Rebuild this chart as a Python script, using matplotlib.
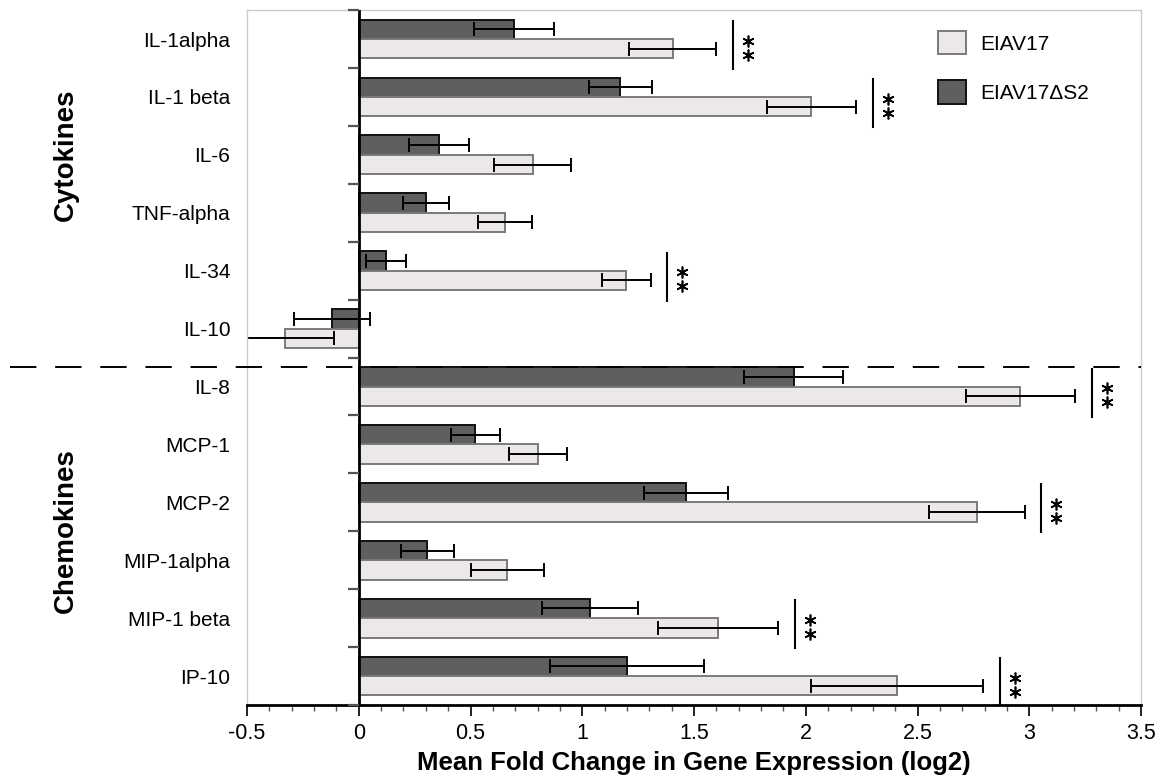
## Horizontal bar chart: cytokine / chemokine expression, EIAV17 vs EIAV17dS2

import matplotlib.pyplot as plt
import matplotlib.transforms as mtransforms
from matplotlib.patches import Patch
from matplotlib.lines import Line2D
import numpy as np

plt.rcParams['font.family'] = ['Liberation Sans', 'DejaVu Sans']
plt.rcParams['lines.scale_dashes'] = False

genes = ['IL-1alpha', 'IL-1 beta', 'IL-6', 'TNF-alpha', 'IL-34', 'IL-10',
         'IL-8', 'MCP-1', 'MCP-2', 'MIP-1alpha', 'MIP-1 beta', 'IP-10']
eiav17 = [1.405, 2.025, 0.778, 0.654, 1.196, -0.33, 2.96, 0.80, 2.764, 0.665, 1.608, 2.408]
eiav17_err = [0.195, 0.20, 0.172, 0.122, 0.11, 0.22, 0.245, 0.13, 0.215, 0.163, 0.268, 0.385]
ds2 = [0.695, 1.17, 0.36, 0.30, 0.121, -0.12, 1.945, 0.522, 1.463, 0.307, 1.033, 1.20]
ds2_err = [0.18, 0.14, 0.135, 0.104, 0.09, 0.17, 0.222, 0.11, 0.187, 0.117, 0.215, 0.344]
significant = ['IL-1alpha', 'IL-1 beta', 'IL-34', 'IL-8', 'MCP-2', 'MIP-1 beta', 'IP-10']
group_names = ['Cytokines', 'Chemokines']
n_cytokines = 6
xticks = [-0.5, 0, 0.5, 1, 1.5, 2, 2.5, 3, 3.5]
xtick_labels = ['-0.5', '0', '0.5', '1', '1.5', '2', '2.5', '3', '3.5']
series_names = ['EIAV17', 'EIAV17\u0394S2']

light = '#ebe7ea'
light_edge = '#7a7a7a'
dark = '#5f5f5f'
dark_edge = '#111111'

fig = plt.figure(figsize=(11.62, 7.75), dpi=100)
ax = fig.add_axes([0.2126, 0.0903, 0.982 - 0.2126, 0.987 - 0.0903])

y = np.arange(len(genes))
h = 0.335
ekw = dict(ecolor='black', elinewidth=1.4, capsize=4.8, capthick=1.4)

ax.barh(y - h / 2, ds2, height=h, color=dark, edgecolor=dark_edge,
        linewidth=1.4, xerr=ds2_err, error_kw=ekw, zorder=2)
ax.barh(y + h / 2, eiav17, height=h, color=light, edgecolor=light_edge,
        linewidth=1.4, xerr=eiav17_err, error_kw=ekw, zorder=2)

ax.set_xlim(-0.5, 3.5)
ax.set_ylim(len(genes) - 0.5, -0.5)

# significance bars with two stacked asterisks
for i, g in enumerate(genes):
    if g in significant:
        xs = eiav17[i] + eiav17_err[i] + 0.075
        ax.plot([xs, xs], [i - 0.31, i + 0.52], color='black', lw=1.5, zorder=3)
        ax.plot([xs + 0.066, xs + 0.066], [i + 0.03, i + 0.27], linestyle='none',
                marker=(6, 2, 0), markersize=8.5, markeredgewidth=1.2,
                color='black', zorder=3)

# zero axis with group boundary ticks
ax.axvline(0, color='black', lw=2, zorder=4)
ax.hlines(np.arange(len(genes) + 1) - 0.5, -0.05, 0, color='#555555', lw=1.6,
          clip_on=False, zorder=4)

# category labels
ax.set_yticks(y)
ax.set_yticklabels(genes, fontsize=15)
ax.tick_params(axis='y', length=0, pad=12)

ax.set_xticks(xticks)
ax.set_xticklabels(xtick_labels, fontsize=15.5)
ax.set_xticks(np.arange(-0.5, 3.51, 0.1), minor=True)
ax.tick_params(axis='x', which='major', length=8, width=1.4, color='#222222', pad=5)
ax.tick_params(axis='x', which='minor', length=4, width=1.0, color='#555555')
ax.set_xlabel('Mean Fold Change in Gene Expression (log2)', fontsize=18.5,
              fontweight='bold', labelpad=5)

for s in ['top', 'left', 'right']:
    ax.spines[s].set_color('#cccccc')
    ax.spines[s].set_linewidth(1)
ax.spines['bottom'].set_linewidth(2)
ax.spines['bottom'].set_color('black')

# dashed separator between cytokines and chemokines
trans = mtransforms.blended_transform_factory(fig.transFigure, ax.transData)
sep_y = n_cytokines - 0.5 + (1 - 2 * h) / 2
fig.add_artist(Line2D([0.009, 0.982], [sep_y, sep_y], transform=trans,
                      color='black', lw=1.4, linestyle=(0, (19, 13.5)), zorder=1))

fig.text(0.057, 0.80, group_names[0], rotation=90, ha='center', va='center',
         fontsize=20, fontweight='bold')
fig.text(0.057, 0.316, group_names[1], rotation=90, ha='center', va='center',
         fontsize=20, fontweight='bold')

handles = [Patch(facecolor=light, edgecolor=light_edge, linewidth=1.4),
           Patch(facecolor=dark, edgecolor=dark_edge, linewidth=1.4)]
ax.legend(handles, series_names, loc='upper left', bbox_to_anchor=(0.752, 0.997),
          frameon=False, fontsize=15, handlelength=1.35, handleheight=1.35,
          labelspacing=1.25, handletextpad=0.65)

fig.savefig('out.png', dpi=100)
